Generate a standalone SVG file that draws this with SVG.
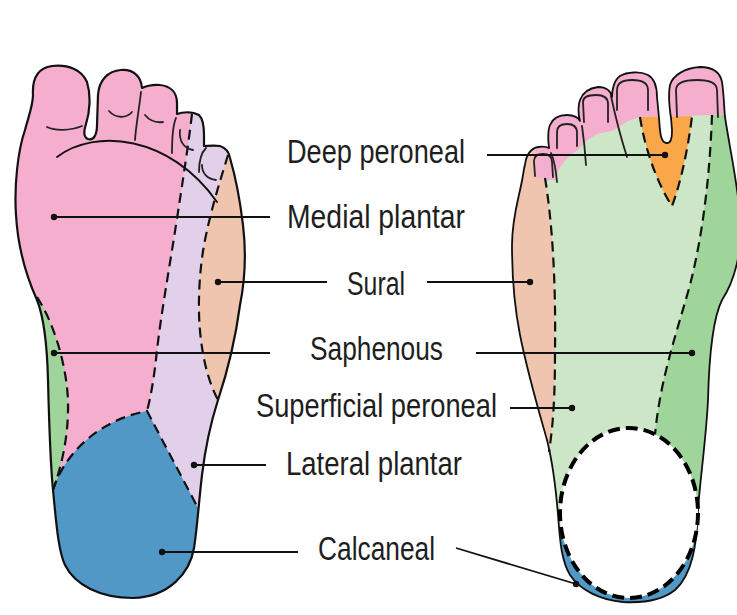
<svg xmlns="http://www.w3.org/2000/svg" xmlns:xlink="http://www.w3.org/1999/xlink" width="737" height="615" viewBox="0 0 737 615">
  <style>
    .outline { fill: none; stroke: #111; stroke-width: 2.2; stroke-linejoin: round; stroke-linecap: round; }
    .line { fill: none; stroke: #111; stroke-width: 1.9; stroke-linecap: round; }
    .thin { fill: none; stroke: #222; stroke-width: 1.8; stroke-linecap: round; stroke-linejoin: round; }
    .dash { fill: none; stroke: #111; stroke-width: 2.2; stroke-dasharray: 10 6; }
    .heel { fill: #fff; stroke: #000; stroke-width: 4; stroke-dasharray: 12 6; }
    .leader { fill: none; stroke: #111; stroke-width: 1.8; }
    .dot { fill: #111; }
    .label { font-family: "Liberation Sans Narrow", "Liberation Sans", Arial, sans-serif; font-size: 34px; fill: #1e1e1e; }
    .pink { fill: #F5AECE; }
    .lilac { fill: #E2D0EB; }
    .peach { fill: #EFC5AF; }
    .green { fill: #9FD49A; }
    .lgreen { fill: #CDE6C8; }
    .blue { fill: #5198C6; }
    .orange { fill: #FAA74A; }
  </style>
  <defs>
    <!-- sole of the foot, seen from below -->
    <path id="soleShape" d="M 33,95 C 32,78 38,68 52,66 C 68,64 82,70 87,82 C 91,95 90,112 86,124 C 84,130 83,137 88,139 C 94,141 97,134 97,125 L 98,95 C 99,80 108,71 121,70 C 133,69 141,76 142,88 C 144,87 152,84 160,85 C 170,86 177,92 177,103 L 177,114 C 182,112 192,111 199,115 C 203,119 204,125 204,135 L 204,146 C 207,146 214,145 220,146 C 226,148 229,152 230,158 C 235,175 240,200 243,225 C 246,250 245,280 240,305 C 236,335 228,370 218,400 C 210,425 205,450 202,475 C 199,500 197,530 194,548 C 190,572 170,597 133,598 C 100,598 75,585 65,565 C 58,550 56,520 53,490 C 50,460 49,420 48,380 C 47,340 43,315 37,300 C 28,280 18,250 16,215 C 14,185 18,150 25,130 C 29,115 33,105 33,95 Z"/>
    <!-- top of the foot -->
    <path id="dorsumShape" d="M 525,165 C 526,155 531,148 538,147 C 543,146 547,147 549,148 C 548,140 548,130 550,125 C 553,118 560,115 567,115 C 574,115 579,118 580,121 C 578,114 578,105 580,100 C 583,92 590,88 598,87 C 606,87 611,91 612,97 C 612,90 614,80 620,76 C 627,72 640,71 648,75 C 655,79 657,88 657,97 L 659,118 C 660,130 660,142 666,143 C 671,144 672,138 672,130 L 671,118 C 669,105 668,95 670,85 C 673,75 685,68 700,67 C 713,67 720,72 722,82 C 724,95 724,108 725,117 C 730,150 737,180 740,215 C 743,250 735,280 722,300 C 712,320 709,360 708,400 C 706,440 700,480 698,510 C 697,545 692,575 675,590 C 660,602 640,603 623,602 C 600,600 580,590 570,575 C 561,560 560,540 558,515 C 556,490 552,460 547,440 C 540,415 528,375 520,335 C 514,305 512,270 512,245 C 512,215 520,195 523,175 C 524,170 524,167 525,165 Z"/>
    <clipPath id="soleClip"><use xlink:href="#soleShape"/></clipPath>
    <clipPath id="dorsumClip"><use xlink:href="#dorsumShape"/></clipPath>
  </defs>

  <!-- plantar view -->
  <g id="plantar-foot">
    <use xlink:href="#soleShape" class="pink"/>
    <g clip-path="url(#soleClip)">
      <path class="lilac" d="M 192,100 L 192,114 C 189,140 183,180 176,225 C 169,270 161,315 157,350 C 154,380 150,400 147,411 L 198,508 L 260,508 L 260,100 Z"/>
      <path class="peach" d="M 228,140 L 228,155 C 222,175 212,205 205,240 C 199,270 197,310 201,340 C 204,365 210,385 218,400 L 260,400 L 260,140 Z"/>
      <path class="green" d="M 37,297 C 52,320 66,360 68,400 C 69,440 60,470 53,490 L 0,490 L 0,297 Z"/>
      <path class="blue" d="M 53,490 C 65,452 100,420 147,411 L 198,508 L 260,508 L 260,615 L 0,615 L 0,490 Z"/>
    </g>
    <!-- nerve territory boundaries -->
    <path class="dash" d="M 192,114 C 189,140 183,180 176,225 C 169,270 161,315 157,350 C 154,380 150,400 147,411"/>
    <path class="dash" d="M 228,155 C 222,175 212,205 205,240 C 199,270 197,310 201,340 C 204,365 210,385 218,400"/>
    <path class="dash" d="M 37,297 C 52,320 66,360 68,400 C 69,440 60,470 53,490"/>
    <path class="dash" d="M 53,490 C 65,452 100,420 147,411 L 198,508"/>
    <!-- toe creases and ball of foot -->
    <path class="line" d="M 57,157 C 95,128 170,135 217,202"/>
    <path class="thin" d="M 47,127 C 55,131 70,131 82,126"/>
    <path class="thin" d="M 109,111 C 115,118 126,119 132,112"/>
    <path class="thin" d="M 145,115 C 150,121 156,123 163,122"/>
    <path class="thin" d="M 180,130 C 179,140 183,148 193,150"/>
    <path class="thin" d="M 202,165 C 202,173 207,179 216,180"/>
    <path class="thin" d="M 141,92 C 139,110 136,125 135,140"/>
    <path class="thin" d="M 176,118 C 173,125 172,135 172,153"/>
    <path class="thin" d="M 206,148 C 201,153 199,160 199,172"/>
    <use xlink:href="#soleShape" class="outline"/>
  </g>

  <!-- dorsal view -->
  <g id="dorsal-foot">
    <use xlink:href="#dorsumShape" class="lgreen"/>
    <g clip-path="url(#dorsumClip)">
      <path class="green" d="M 712,100 L 712,115 C 710,170 704,230 690,285 C 676,335 660,380 655,435 L 655,600 L 745,600 L 745,100 Z"/>
      <path class="pink" d="M 500,60 L 500,182 L 555,180 C 558,168 565,158 578,150 C 586,140 595,133 607,132 C 615,131 621,125 628,121 L 640,117 L 715,115 L 745,115 L 745,60 Z"/>
      <path class="peach" d="M 500,100 L 536,100 L 536,178 L 545,178 C 552,220 556,280 555,350 C 555,400 553,425 549,452 L 500,452 Z"/>
      <path class="orange" d="M 640,117 C 645,150 658,185 672,206 C 680,185 688,150 692,116 Z"/>
      <path class="blue" d="M 540,528 L 745,520 L 745,615 L 540,615 Z"/>
    </g>
    <path class="dash" d="M 545,178 C 552,220 556,280 555,350 C 555,400 553,425 549,452"/>
    <path class="dash" d="M 712,115 C 710,170 704,230 690,285 C 676,335 660,380 655,435"/>
    <path class="dash" d="M 640,117 C 645,150 658,185 672,206 C 680,185 688,150 692,116"/>
    <!-- toe edges and nails -->
    <path class="thin" d="M 551,153 C 554,160 556,170 557,182"/>
    <path class="thin" d="M 582,126 C 584,140 585,150 586,165"/>
    <path class="thin" d="M 611,96 C 615,115 620,135 627,157"/>
    <path class="thin" d="M 535,176 L 534,161 C 534,156 538,154 543,154 C 549,154 552,157 552,162 L 553,177"/>
    <path class="thin" d="M 557,148 L 557,132 C 557,126 561,124 567,124 C 574,124 577,127 577,133 L 577,146"/>
    <path class="thin" d="M 584,122 L 583,102 C 583,97 588,95 596,95 C 604,95 608,98 608,104 L 608,122"/>
    <path class="thin" d="M 617,110 L 617,90 C 617,83 623,80 632,80 C 642,80 648,83 648,90 L 648,110"/>
    <path class="thin" d="M 677,117 L 676,90 C 676,83 683,80 697,80 C 711,80 717,83 717,90 L 718,117"/>
    <use xlink:href="#dorsumShape" class="outline" style="stroke-width:1.8"/>
    <ellipse class="heel" cx="629" cy="513" rx="69" ry="85"/>
  </g>

  <!-- leader lines to each territory -->
  <g id="leaders">
    <line class="leader" x1="487" y1="155" x2="665" y2="155"/>
    <circle class="dot" cx="665" cy="155" r="3.2"/>
    <line class="leader" x1="54" y1="217" x2="270" y2="217"/>
    <circle class="dot" cx="54" cy="217" r="3.2"/>
    <line class="leader" x1="218" y1="282" x2="327" y2="282"/>
    <circle class="dot" cx="218" cy="282" r="3.2"/>
    <line class="leader" x1="427" y1="282" x2="530" y2="282"/>
    <circle class="dot" cx="530" cy="282" r="3.2"/>
    <line class="leader" x1="54" y1="353" x2="270" y2="353"/>
    <circle class="dot" cx="54" cy="353" r="3.2"/>
    <line class="leader" x1="476" y1="353" x2="692" y2="353"/>
    <circle class="dot" cx="692" cy="353" r="3.2"/>
    <line class="leader" x1="510" y1="408" x2="572" y2="408"/>
    <circle class="dot" cx="572" cy="408" r="3.2"/>
    <line class="leader" x1="194" y1="465" x2="266" y2="465"/>
    <circle class="dot" cx="194" cy="465" r="3.2"/>
    <line class="leader" x1="162" y1="552" x2="298" y2="552"/>
    <circle class="dot" cx="162" cy="552" r="3.2"/>
    <line class="leader" x1="456" y1="548" x2="576" y2="584"/>
    <circle class="dot" cx="576" cy="584" r="3.2"/>
  </g>

  <g id="label-deep-peroneal"><text class="label" x="287" y="163" textLength="178" lengthAdjust="spacingAndGlyphs">Deep peroneal</text></g>
  <g id="label-medial-plantar"><text class="label" x="287" y="228" textLength="178" lengthAdjust="spacingAndGlyphs">Medial plantar</text></g>
  <g id="label-sural"><text class="label" x="347" y="295" textLength="58" lengthAdjust="spacingAndGlyphs">Sural</text></g>
  <g id="label-saphenous"><text class="label" x="310" y="360" textLength="133" lengthAdjust="spacingAndGlyphs">Saphenous</text></g>
  <g id="label-superficial-peroneal"><text class="label" x="256" y="417" textLength="241" lengthAdjust="spacingAndGlyphs">Superficial peroneal</text></g>
  <g id="label-lateral-plantar"><text class="label" x="286" y="475" textLength="176" lengthAdjust="spacingAndGlyphs">Lateral plantar</text></g>
  <g id="label-calcaneal"><text class="label" x="318" y="560" textLength="117" lengthAdjust="spacingAndGlyphs">Calcaneal</text></g>
</svg>
